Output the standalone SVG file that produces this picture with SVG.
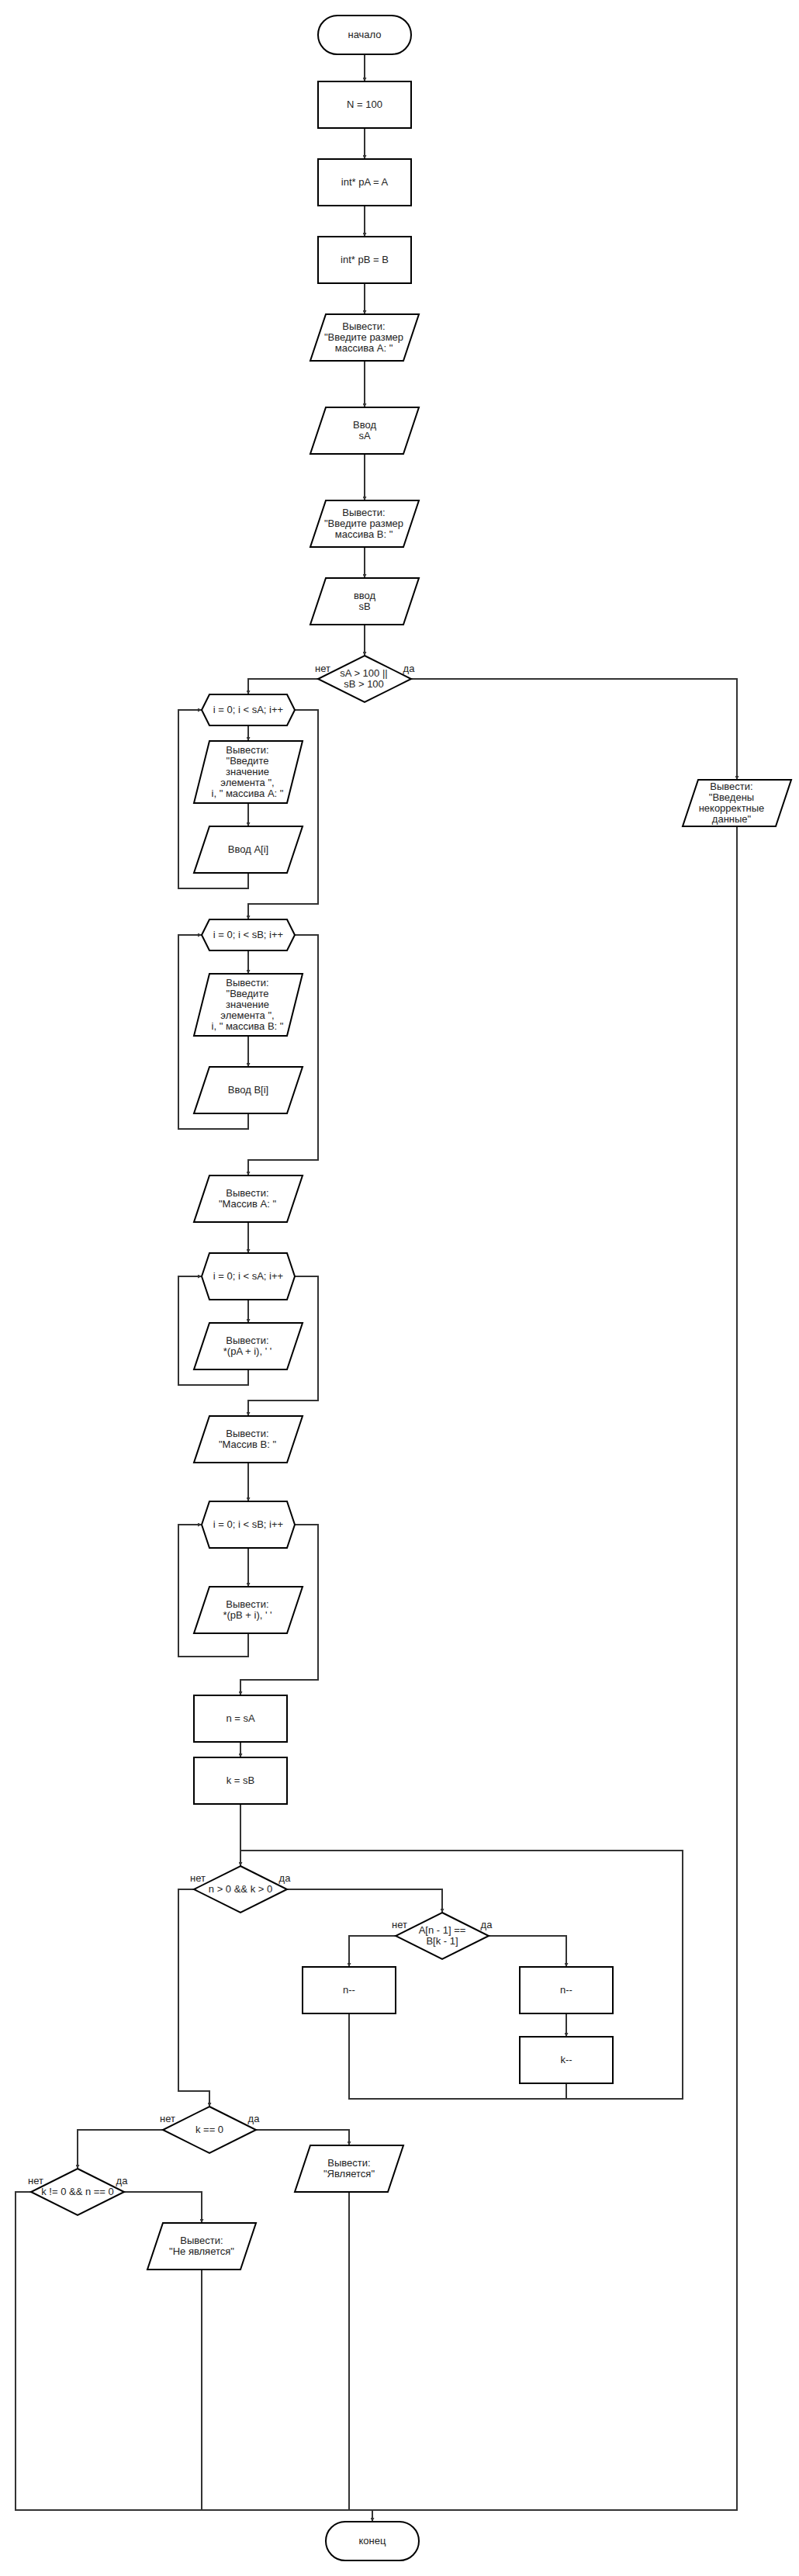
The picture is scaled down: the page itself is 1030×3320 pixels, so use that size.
<svg xmlns="http://www.w3.org/2000/svg" width="1030" height="3320" viewBox="0 0 1030 3320">
<defs>
<marker id="arr" viewBox="0 0 8 8" refX="8" refY="4" markerWidth="5" markerHeight="5" markerUnits="userSpaceOnUse" orient="auto"><path d="M0,0 L8,4 L0,8 z" fill="#333"/></marker>
<style>
.n{fill:#fff;stroke:#000;stroke-width:2}
.c{fill:none;stroke:#333;stroke-width:2}
.a{marker-end:url(#arr)}
text{font-family:"Liberation Sans",Arial,sans-serif;font-size:13px;fill:#222;text-anchor:middle}
</style>
</defs>
<g id="connectors">
<path class="c a" d="M470,70 V105"/>
<path class="c a" d="M470,165 V205"/>
<path class="c a" d="M470,265 V305"/>
<path class="c a" d="M470,365 V405"/>
<path class="c a" d="M470,465 V525"/>
<path class="c a" d="M470,585 V645"/>
<path class="c a" d="M470,705 V745"/>
<path class="c a" d="M470,805 V845"/>
<path class="c a" d="M410,875 H320 V895"/>
<path class="c a" d="M530,875 H950 V1005"/>
<path class="c a" d="M320,935 V955"/>
<path class="c a" d="M320,1035 V1065"/>
<path class="c a" d="M320,1125 V1145 H230 V915 H260"/>
<path class="c a" d="M380,915 H410 V1165 H320 V1185"/>
<path class="c a" d="M320,1225 V1255"/>
<path class="c a" d="M320,1335 V1375"/>
<path class="c a" d="M320,1435 V1455 H230 V1205 H260"/>
<path class="c a" d="M380,1205 H410 V1495 H320 V1515"/>
<path class="c a" d="M320,1575 V1615"/>
<path class="c a" d="M320,1675 V1705"/>
<path class="c a" d="M320,1765 V1785 H230 V1645 H260"/>
<path class="c a" d="M380,1645 H410 V1805 H320 V1825"/>
<path class="c a" d="M320,1885 V1935"/>
<path class="c a" d="M320,1995 V2045"/>
<path class="c a" d="M320,2105 V2135 H230 V1965 H260"/>
<path class="c a" d="M380,1965 H410 V2165 H310 V2185"/>
<path class="c a" d="M310,2245 V2265"/>
<path class="c a" d="M310,2325 V2405"/>
<path class="c a" d="M370,2435 H570 V2465"/>
<path class="c a" d="M510,2495 H450 V2535"/>
<path class="c a" d="M630,2495 H730 V2535"/>
<path class="c a" d="M730,2595 V2625"/>
<path class="c" d="M450,2595 V2705 H880 V2385 H310"/>
<path class="c" d="M730,2685 V2705"/>
<path class="c a" d="M250,2435 H230 V2695 H270 V2715"/>
<path class="c a" d="M210,2745 H100 V2795"/>
<path class="c a" d="M330,2745 H450 V2765"/>
<path class="c a" d="M160,2825 H260 V2865"/>
<path class="c" d="M40,2825 H20 V3235 H480"/>
<path class="c" d="M260,2925 V3235"/>
<path class="c" d="M450,2825 V3235"/>
<path class="c" d="M950,1065 V3235 H480"/>
<path class="c a" d="M480,3235 V3250"/>
</g>
<g id="labels">
<text x="416" y="866">нет</text><text x="527" y="866">да</text>
<text x="255" y="2425">нет</text><text x="367" y="2425">да</text>
<text x="515" y="2485">нет</text><text x="627" y="2485">да</text>
<text x="216" y="2735">нет</text><text x="327" y="2735">да</text>
<text x="46" y="2815">нет</text><text x="157" y="2815">да</text>
</g>
<g id="start"><rect class="n" x="410" y="20" width="120" height="50" rx="25"/><text x="470" y="49">начало</text></g>
<g id="n100"><rect class="n" x="410" y="105" width="120" height="60"/><text x="470" y="139">N = 100</text></g>
<g id="pA"><rect class="n" x="410" y="205" width="120" height="60"/><text x="470" y="239">int* pA = A</text></g>
<g id="pB"><rect class="n" x="410" y="305" width="120" height="60"/><text x="470" y="339">int* pB = B</text></g>
<g id="outSizeA"><polygon class="n" points="420,405 540,405 520,465 400,465"/><text x="469" y="425">Вывести:</text><text x="469" y="439">"Введите размер</text><text x="469" y="453">массива A: "</text></g>
<g id="inSA"><polygon class="n" points="420,525 540,525 520,585 400,585"/><text x="470" y="552">Ввод</text><text x="470" y="566">sA</text></g>
<g id="outSizeB"><polygon class="n" points="420,645 540,645 520,705 400,705"/><text x="469" y="665">Вывести:</text><text x="469" y="679">"Введите размер</text><text x="469" y="693">массива B: "</text></g>
<g id="inSB"><polygon class="n" points="420,745 540,745 520,805 400,805"/><text x="470" y="772">ввод</text><text x="470" y="786">sB</text></g>
<g id="check"><polygon class="n" points="470,845 530,875 470,905 410,875"/><text x="469" y="872">sA &gt; 100 ||</text><text x="469" y="886">sB &gt; 100</text></g>
<g id="outErr"><polygon class="n" points="900,1005 1020,1005 1000,1065 880,1065"/><text x="943" y="1018">Вывести:</text><text x="943" y="1032">"Введены</text><text x="943" y="1046">некорректные</text><text x="943" y="1060">данные"</text></g>
<g id="loop1"><polygon class="n" points="260,915 270,895 370,895 380,915 370,935 270,935"/><text x="320" y="919">i = 0; i &lt; sA; i++</text></g>
<g id="outElA"><polygon class="n" points="270,955 390,955 370,1035 250,1035"/><text x="319" y="971">Вывести:</text><text x="319" y="985">"Введите</text><text x="319" y="999">значение</text><text x="319" y="1013">элемента ",</text><text x="319" y="1027">i, " массива A: "</text></g>
<g id="inA"><polygon class="n" points="270,1065 390,1065 370,1125 250,1125"/><text x="320" y="1099">Ввод A[i]</text></g>
<g id="loop2"><polygon class="n" points="260,1205 270,1185 370,1185 380,1205 370,1225 270,1225"/><text x="320" y="1209">i = 0; i &lt; sB; i++</text></g>
<g id="outElB"><polygon class="n" points="270,1255 390,1255 370,1335 250,1335"/><text x="319" y="1271">Вывести:</text><text x="319" y="1285">"Введите</text><text x="319" y="1299">значение</text><text x="319" y="1313">элемента ",</text><text x="319" y="1327">i, " массива B: "</text></g>
<g id="inB"><polygon class="n" points="270,1375 390,1375 370,1435 250,1435"/><text x="320" y="1409">Ввод B[i]</text></g>
<g id="outArrA"><polygon class="n" points="270,1515 390,1515 370,1575 250,1575"/><text x="319" y="1542">Вывести:</text><text x="319" y="1556">"Массив A: "</text></g>
<g id="loop3"><polygon class="n" points="260,1645 270,1615 370,1615 380,1645 370,1675 270,1675"/><text x="320" y="1649">i = 0; i &lt; sA; i++</text></g>
<g id="printA"><polygon class="n" points="270,1705 390,1705 370,1765 250,1765"/><text x="319" y="1732">Вывести:</text><text x="319" y="1746">*(pA + i), ' '</text></g>
<g id="outArrB"><polygon class="n" points="270,1825 390,1825 370,1885 250,1885"/><text x="319" y="1852">Вывести:</text><text x="319" y="1866">"Массив B: "</text></g>
<g id="loop4"><polygon class="n" points="260,1965 270,1935 370,1935 380,1965 370,1995 270,1995"/><text x="320" y="1969">i = 0; i &lt; sB; i++</text></g>
<g id="printB"><polygon class="n" points="270,2045 390,2045 370,2105 250,2105"/><text x="319" y="2072">Вывести:</text><text x="319" y="2086">*(pB + i), ' '</text></g>
<g id="nsA"><rect class="n" x="250" y="2185" width="120" height="60"/><text x="310" y="2219">n = sA</text></g>
<g id="ksB"><rect class="n" x="250" y="2265" width="120" height="60"/><text x="310" y="2299">k = sB</text></g>
<g id="whileCond"><polygon class="n" points="310,2405 370,2435 310,2465 250,2435"/><text x="310" y="2439">n &gt; 0 &amp;&amp; k &gt; 0</text></g>
<g id="eqCond"><polygon class="n" points="570,2465 630,2495 570,2525 510,2495"/><text x="570" y="2492">A[n - 1] ==</text><text x="570" y="2506">B[k - 1]</text></g>
<g id="decNL"><rect class="n" x="390" y="2535" width="120" height="60"/><text x="450" y="2569">n--</text></g>
<g id="decNR"><rect class="n" x="670" y="2535" width="120" height="60"/><text x="730" y="2569">n--</text></g>
<g id="decK"><rect class="n" x="670" y="2625" width="120" height="60"/><text x="730" y="2659">k--</text></g>
<g id="kZero"><polygon class="n" points="270,2715 330,2745 270,2775 210,2745"/><text x="270" y="2749">k == 0</text></g>
<g id="notSub"><polygon class="n" points="100,2795 160,2825 100,2855 40,2825"/><text x="100" y="2829">k != 0 &amp;&amp; n == 0</text></g>
<g id="outYes"><polygon class="n" points="400,2765 520,2765 500,2825 380,2825"/><text x="450" y="2792">Вывести:</text><text x="450" y="2806">"Является"</text></g>
<g id="outNo"><polygon class="n" points="210,2865 330,2865 310,2925 190,2925"/><text x="260" y="2892">Вывести:</text><text x="260" y="2906">"Не является"</text></g>
<g id="end"><rect class="n" x="420" y="3250" width="120" height="50" rx="25"/><text x="480" y="3279">конец</text></g>
</svg>
